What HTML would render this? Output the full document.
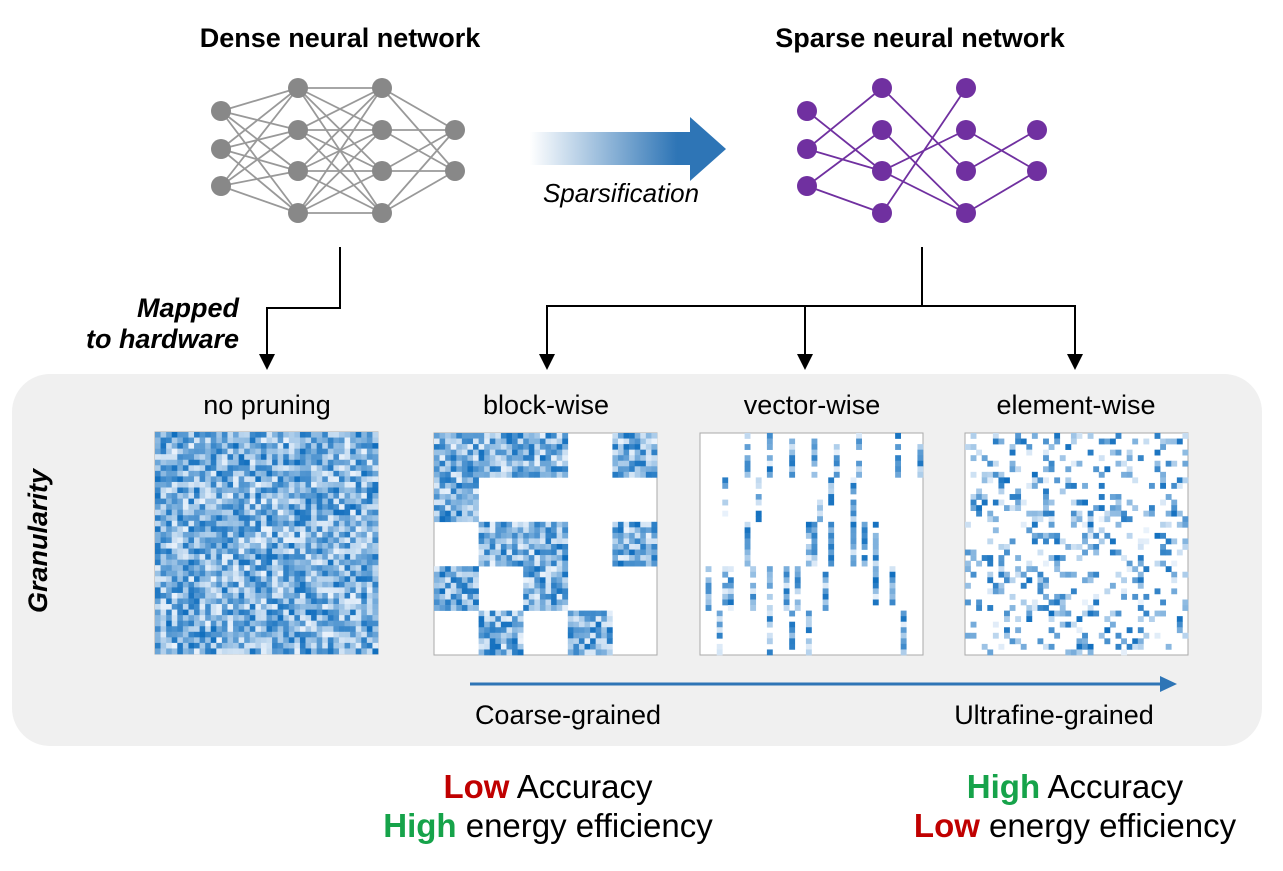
<!DOCTYPE html>
<html><head><meta charset="utf-8"><style>
body{margin:0;background:#fff;width:1283px;height:866px;overflow:hidden;font-family:"Liberation Sans",sans-serif}
</style></head><body>
<svg id="s" width="1283" height="866" xmlns="http://www.w3.org/2000/svg" font-family="Liberation Sans, sans-serif">
<defs><linearGradient id="g" x1="0" x2="1"><stop offset="0" stop-color="#fff"/><stop offset="0.75" stop-color="#2e75b6"/><stop offset="1" stop-color="#2e75b6"/></linearGradient></defs>
<rect x="12" y="374" width="1250" height="372" rx="38" fill="#f0f0f0"/>
<text x="340" y="47" font-size="27" font-weight="bold" text-anchor="middle">Dense neural network</text>
<text x="920" y="47" font-size="27" font-weight="bold" text-anchor="middle">Sparse neural network</text>
<polygon points="530,132 690,132 690,117 726,149 690,181 690,165 530,165" fill="url(#g)"/>
<text x="621" y="202" font-size="26" font-style="italic" text-anchor="middle">Sparsification</text>
<g id="nets"></g>
<g stroke="#000" stroke-width="2" fill="none">
<polyline points="340,247 340,308 267,308 267,356"/>
<polyline points="922,247 922,305"/>
<polyline points="547,356 547,306 1075,306 1075,356"/>
<line x1="805" y1="306" x2="805" y2="356"/>
</g>
<g fill="#000">
<polygon points="259,354 275,354 267,370"/>
<polygon points="539,354 555,354 547,370"/>
<polygon points="797,354 813,354 805,370"/>
<polygon points="1067,354 1083,354 1075,370"/>
</g>
<text x="239" y="317" font-size="27" font-weight="bold" font-style="italic" text-anchor="end">Mapped</text>
<text x="239" y="348" font-size="27" font-weight="bold" font-style="italic" text-anchor="end">to hardware</text>
<text x="47" y="541" font-size="27" font-weight="bold" font-style="italic" text-anchor="middle" transform="rotate(-90 47 541)">Granularity</text>
<text x="267" y="414" font-size="27" text-anchor="middle">no pruning</text>
<text x="546" y="414" font-size="27" text-anchor="middle">block-wise</text>
<text x="812" y="414" font-size="27" text-anchor="middle">vector-wise</text>
<text x="1076" y="414" font-size="27" text-anchor="middle">element-wise</text>
<g id="mats"></g>
<line x1="470" y1="684" x2="1162" y2="684" stroke="#2e75b6" stroke-width="3"/>
<polygon points="1160,676 1177,684 1160,692" fill="#2e75b6"/>
<text x="568" y="724" font-size="27" text-anchor="middle">Coarse-grained</text>
<text x="1054" y="724" font-size="27" text-anchor="middle">Ultrafine-grained</text>
<text x="548" y="798" font-size="33" text-anchor="middle"><tspan fill="#c00000" font-weight="bold">Low</tspan> Accuracy</text>
<text x="548" y="837" font-size="33" text-anchor="middle"><tspan fill="#16a34a" font-weight="bold">High</tspan> energy efficiency</text>
<text x="1075" y="798" font-size="33" text-anchor="middle"><tspan fill="#16a34a" font-weight="bold">High</tspan> Accuracy</text>
<text x="1075" y="837" font-size="33" text-anchor="middle"><tspan fill="#c00000" font-weight="bold">Low</tspan> energy efficiency</text>
</svg>
<script>
var NS="http://www.w3.org/2000/svg";
function el(p,t,a){var e=document.createElementNS(NS,t);for(var k in a)e.setAttribute(k,a[k]);p.appendChild(e);return e;}
var nets=document.getElementById("nets"),mats=document.getElementById("mats");
var L=[[111,149,186],[88,130,171,213],[88,130,171,213],[130,171]];
function net(xs,col,lc,edges){
 var g=el(nets,"g",{stroke:lc,"stroke-width":"1.8"});
 edges.forEach(function(e){el(g,"line",{x1:xs[e[0]],y1:L[e[0]][e[1]],x2:xs[e[0]+1],y2:L[e[0]+1][e[2]]});});
 for(var i=0;i<4;i++)L[i].forEach(function(y){el(nets,"circle",{cx:xs[i],cy:y,r:10,fill:col});});
}
var de=[];for(var l=0;l<3;l++)for(var a=0;a<L[l].length;a++)for(var b=0;b<L[l+1].length;b++)de.push([l,a,b]);
net([221,298,382,455],"#888","#999",de);
net([807,882,966,1037],"#7030a0","#7030a0",[[0,0,2],[0,1,0],[0,1,2],[0,2,1],[0,2,3],[1,0,2],[1,1,3],[1,2,1],[1,2,3],[1,3,0],[2,1,1],[2,2,0],[2,3,1]]);
var seed=12345;function r(){seed=(seed*1103515245+12345)%2147483648;return seed/2147483648;}
function color(v){var c0=[234,242,251],c1=[16,110,190];return "rgb("+c0.map(function(c,i){return Math.round(c+(c1[i]-c)*v);}).join(",")+")";}
var N=40,S=223/40;
function mat(x0,y0,f){
 el(mats,"rect",{x:x0,y:y0,width:223,height:222,fill:"#fff",stroke:"#aaa","stroke-width":"1"});
 for(var i=0;i<N;i++)for(var j=0;j<N;j++){if(!f(i,j))continue;
  el(mats,"rect",{x:(x0+j*S).toFixed(2),y:(y0+i*222/40).toFixed(2),width:(S+0.3).toFixed(2),height:(222/40+0.3).toFixed(2),fill:color(r())});}
}
mat(155,432,function(){return true;});
var B=[[1,1,1,0,1],[1,0,0,0,0],[0,1,1,0,1],[1,0,1,0,0],[0,1,0,1,0]];
mat(434,433,function(i,j){return B[Math.floor(i/8)][Math.floor(j/8)];});
var V=[];for(var b=0;b<5;b++){V.push([]);for(var j=0;j<N;j++)V[b].push(r()<0.25);}
mat(700,433,function(i,j){return V[Math.floor(i/8)][j]&&r()<0.85;});
mat(965,433,function(){return r()<0.25;});
</script>
</body></html>
